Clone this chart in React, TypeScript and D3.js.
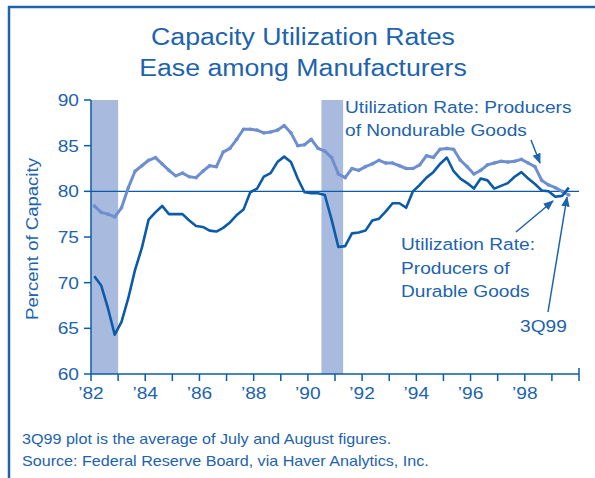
import React from "react";
import * as d3 from "d3";

// Quarterly, 1982Q1 .. 1999Q3
const startYear = 1982;
const durable = [
  70.7, 69.7, 67.2, 64.3, 65.7, 68.3, 71.4, 73.8, 76.9, 77.7, 78.4, 77.5,
  77.5, 77.5, 76.8, 76.2, 76.1, 75.7, 75.6, 76.0, 76.6, 77.4, 78.0, 79.9,
  80.3, 81.6, 82.0, 83.2, 83.8, 83.2, 81.4, 79.9, 79.8, 79.8, 79.6, 76.9,
  73.9, 74.0, 75.4, 75.5, 75.7, 76.8, 77.0, 77.8, 78.7, 78.7, 78.2, 80.0,
  80.7, 81.5, 82.1, 83.0, 83.7, 82.2, 81.4, 80.9, 80.3, 81.4, 81.2, 80.3,
  80.6, 80.9, 81.6, 82.1, 81.4, 80.8, 80.1, 80.0, 79.4, 79.5, 80.4,
];
const nondurable = [
  78.4, 77.7, 77.5, 77.2, 78.2, 80.4, 82.2, 82.8, 83.4, 83.7, 83.0, 82.3,
  81.7, 82.0, 81.6, 81.5, 82.2, 82.8, 82.7, 84.3, 84.7, 85.7, 86.8, 86.8,
  86.7, 86.4, 86.5, 86.7, 87.2, 86.4, 85.0, 85.1, 85.7, 84.7, 84.4, 83.7,
  81.9, 81.5, 82.5, 82.3, 82.7, 83.0, 83.4, 83.1, 83.1, 82.8, 82.5, 82.5,
  82.9, 83.9, 83.7, 84.6, 84.7, 84.6, 83.4, 82.7, 81.9, 82.3, 82.9, 83.1,
  83.3, 83.2, 83.3, 83.5, 83.1, 82.7, 81.2, 80.7, 80.4, 80.0, 79.6,
];
const recessions = [
  [1982.0, 1983.0],
  [1990.5, 1991.3],
];
const yTicks = [60, 65, 70, 75, 80, 85, 90];
const xLabelYears = [1982, 1984, 1986, 1988, 1990, 1992, 1994, 1996, 1998];
const refLevel = 80;

const W = 595;
const H = 478;
const BLUE = "#1d63ae";
const DARK = "#0b5ba8";
const LIGHT = "#6e8fcf";
const BAND = "#a9badf";
const FONT = "'Liberation Sans', Arial, sans-serif";
const SX = 1.16; // the source type is set wide

// text stretched horizontally
const T = ({ x, y, size, anchor = "start", rot = 0, children }: any) => (
  <text
    transform={`translate(${x},${y})${rot ? ` rotate(${rot})` : ""} scale(${SX},1)`}
    textAnchor={anchor}
    fontSize={size}
    fill={BLUE}
  >
    {children}
  </text>
);

export default function App() {
  const x = d3.scaleLinear().domain([1982, 2000]).range([91, 579]);
  const y = d3.scaleLinear().domain([60, 90]).range([374, 100]);
  const tq = (i: number) => startYear + (i + 0.5) / 4;
  const line = d3
    .line<number>()
    .x((_, i) => x(tq(i)))
    .y((d) => y(d));
  const years = d3.range(1982, 2001);

  return (
    <svg
      width={W}
      height={H}
      style={{ position: "absolute", left: 0, top: 0, background: "#fff" }}
      fontFamily={FONT}
    >
      <defs>
        <marker id="ah" viewBox="0 0 10 10" refX="9" refY="5" markerWidth="7" markerHeight="7" orient="auto">
          <path d="M0,1 L10,5 L0,9 z" fill={BLUE} />
        </marker>
      </defs>
      {/* frame */}
      <path d={`M9,${H} V7 H${W}`} fill="none" stroke={BLUE} strokeWidth={2.5} />

      {/* title */}
      <T x={303} y={45} size={23} anchor="middle">Capacity Utilization Rates</T>
      <T x={303} y={76} size={23} anchor="middle">Ease among Manufacturers</T>

      {/* recession bands */}
      {recessions.map(([a, b], i) => (
        <rect key={i} x={x(a)} y={y(90)} width={x(b) - x(a)} height={y(60) - y(90)} fill={BAND} />
      ))}

      {/* reference line */}
      <line x1={x(1982)} x2={x(2000)} y1={y(refLevel)} y2={y(refLevel)} stroke={DARK} strokeWidth={1.3} />

      {/* axes */}
      <line x1={x(1982)} x2={x(1982)} y1={y(60)} y2={y(90)} stroke={DARK} strokeWidth={1.5} />
      <line x1={x(1982)} x2={x(2000)} y1={y(60)} y2={y(60)} stroke={DARK} strokeWidth={1.5} />
      {yTicks.map((t) => (
        <g key={t}>
          <line x1={x(1982) - 7} x2={x(1982)} y1={y(t)} y2={y(t)} stroke={DARK} strokeWidth={1.5} />
          <T x={79} y={y(t) + 6} size={16.5} anchor="end">{t}</T>
        </g>
      ))}
      {years.map((yr) => (
        <line
          key={yr}
          x1={x(yr)}
          x2={x(yr)}
          y1={yr === 2000 ? y(60) - 6 : y(60)}
          y2={y(60) + 7}
          stroke={DARK}
          strokeWidth={1.5}
        />
      ))}
      {xLabelYears.map((yr) => (
        <T key={yr} x={x(yr)} y={399} size={16.5} anchor="middle">
          {"\u2019" + String(yr).slice(2)}
        </T>
      ))}
      <T x={38} y={239} size={16} anchor="middle" rot={-90}>Percent of Capacity</T>

      {/* series */}
      <path d={line(nondurable) || ""} fill="none" stroke={LIGHT} strokeWidth={3} strokeLinejoin="round" />
      {nondurable.map((d, i) => (
        <circle key={i} cx={x(tq(i))} cy={y(d)} r={1.8} fill={LIGHT} />
      ))}
      <path d={line(durable) || ""} fill="none" stroke={DARK} strokeWidth={2.6} strokeLinejoin="round" />

      {/* annotations */}
      <T x={345} y={113} size={16.5}>Utilization Rate: Producers</T>
      <T x={345} y={136} size={16.5}>of Nondurable Goods</T>
      <T x={401} y={250} size={16.5}>Utilization Rate:</T>
      <T x={401} y={274} size={16.5}>Producers of</T>
      <T x={401} y={297} size={16.5}>Durable Goods</T>
      <T x={520} y={332} size={16.5}>3Q99</T>
      <line x1={531} y1={140} x2={540} y2={163} stroke={BLUE} strokeWidth={1.5} markerEnd="url(#ah)" />
      <line x1={516} y1={232} x2={553} y2={201} stroke={BLUE} strokeWidth={1.5} markerEnd="url(#ah)" />
      <line x1={548} y1={312} x2={567} y2={197} stroke={BLUE} strokeWidth={1.5} markerEnd="url(#ah)" />

      {/* footnote */}
      <T x={22} y={444} size={13.9}>3Q99 plot is the average of July and August figures.</T>
      <T x={22} y={466} size={13.9}>Source: Federal Reserve Board, via Haver Analytics, Inc.</T>
    </svg>
  );
}
